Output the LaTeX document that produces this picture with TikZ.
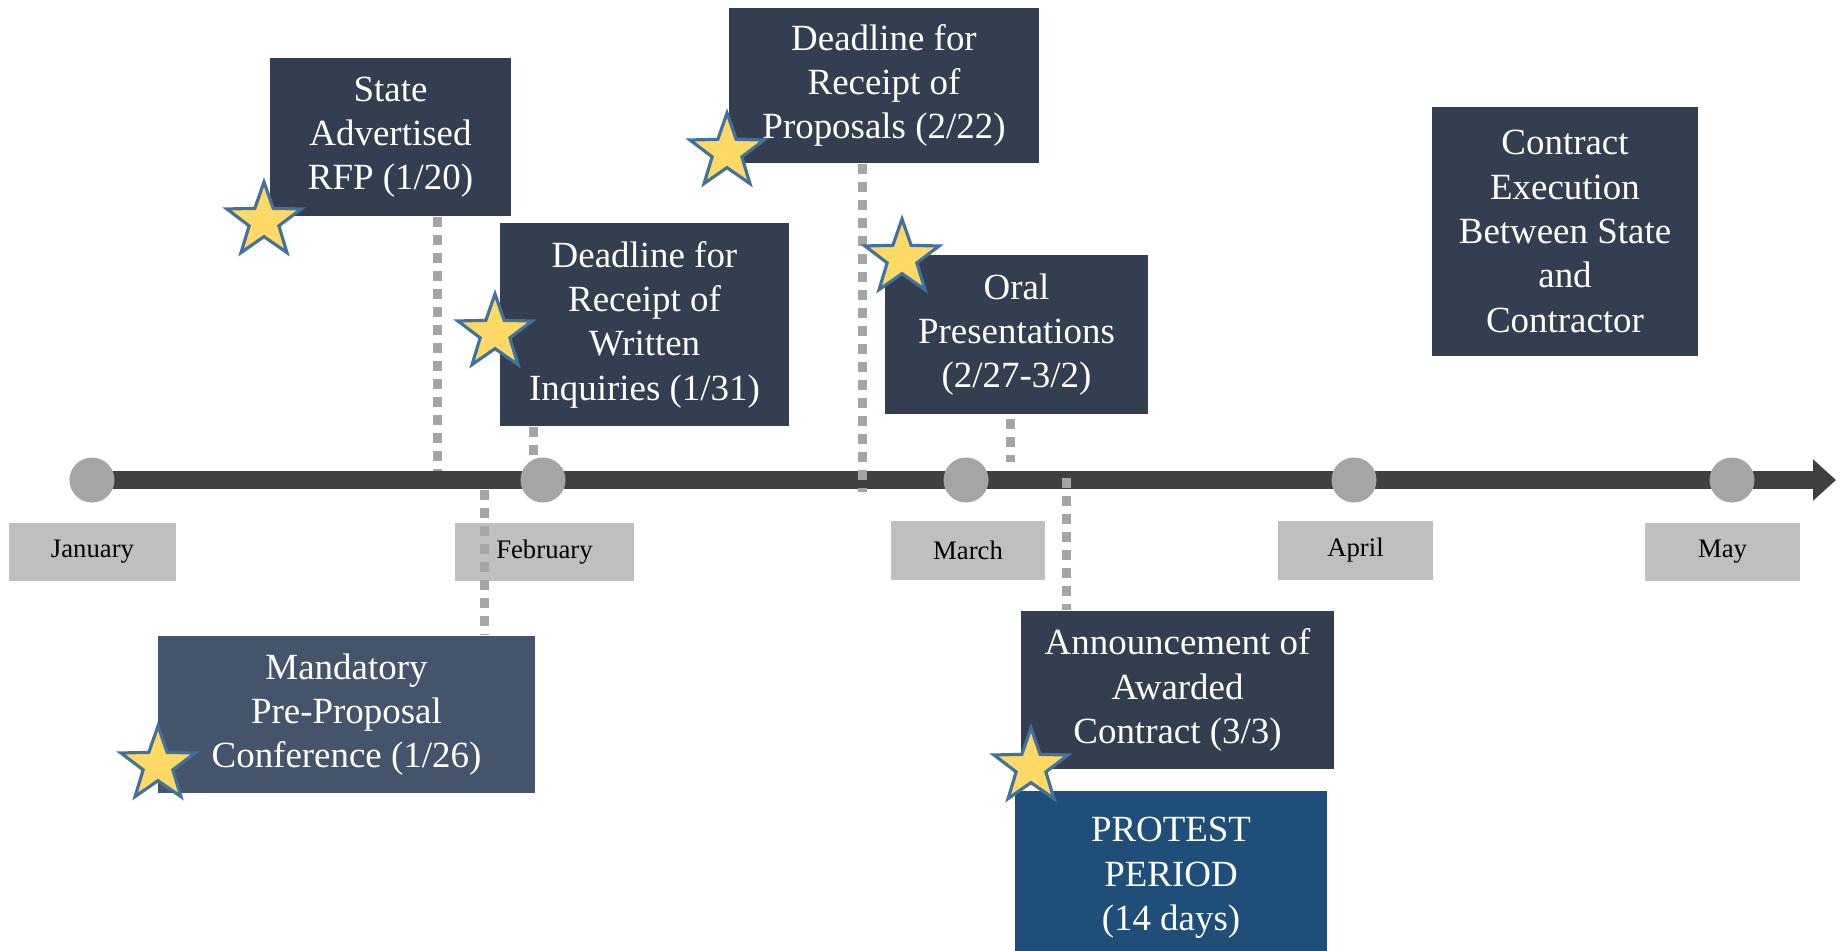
\documentclass[tikz,border=0pt]{standalone}
\usepackage{fontspec}
\setmainfont{Liberation Serif}
\usetikzlibrary{shapes.geometric,arrows.meta}

\definecolor{SlateBox}{HTML}{333F50}
\definecolor{MandBox}{HTML}{44546A}
\definecolor{ProtestBlue}{HTML}{1F4E79}
\definecolor{MonthGrey}{HTML}{BFBFBF}
\definecolor{DotGrey}{HTML}{A5A5A5}
\definecolor{LineGrey}{HTML}{404040}
\definecolor{StarYellow}{HTML}{FFD966}
\definecolor{StarBlue}{HTML}{41719C}

\begin{document}
\begin{tikzpicture}[x=0.01cm,y=-0.01cm,
  event/.style={fill=SlateBox,text=white,align=center,inner sep=0pt,font=\fontsize{10.5}{12.6}\selectfont},
  month/.style={fill=MonthGrey,inner sep=0pt,minimum height=0.58cm,font=\fontsize{7.6}{9}\selectfont},
  monthdot/.style={circle,fill=DotGrey,minimum size=0.45cm,inner sep=0pt},
  evlink/.style={DotGrey,line width=0.09cm,dash pattern=on 0.1cm off 0.08cm},
  starmark/.style={star,star points=5,star point ratio=2.5,fill=StarYellow,draw=StarBlue,line width=0.9pt,minimum size=0.78cm,inner sep=0pt}]
\useasboundingbox (0,0) rectangle (1843,950);

% timeline
\coordinate (tstart) at (92,480);
\coordinate (tend) at (1836,480);
\draw[LineGrey,line width=0.18cm,-{Triangle[width=0.40cm,length=0.23cm]}] (tstart) -- (tend);

% months
\node[month,minimum width=1.67cm] (ljan) at (92.5,552) {January};
\node[month,minimum width=1.79cm] (lfeb) at (544.5,552) {February};
\node[month,minimum width=1.53cm,minimum height=0.59cm] (lmar) at (968,550.5) {March};
\node[month,minimum width=1.55cm,minimum height=0.59cm] (lapr) at (1355.5,550.5) {April};
\node[month,minimum width=1.55cm] (lmay) at (1722.5,552) {May};

% events
\node[event,minimum width=2.41cm,minimum height=1.58cm] (rfp) at (390.5,137) {State\\Advertised\\RFP (1/20)};
\node[event,minimum width=2.89cm,minimum height=2.03cm] (inq) at (644.5,324.5) {Deadline for\\Receipt of\\Written\\Inquiries (1/31)};
\node[event,minimum width=3.10cm,minimum height=1.55cm] (prop) at (884,85.5) {Deadline for\\Receipt of\\Proposals (2/22)};
\node[event,minimum width=2.63cm,minimum height=1.59cm] (oral) at (1016.5,334.5) {Oral\\Presentations\\(2/27-3/2)};
\node[event,minimum width=2.66cm,minimum height=2.49cm] (exec) at (1565,231.5) {Contract\\Execution\\Between State\\and\\Contractor};
\node[event,fill=MandBox,minimum width=3.77cm,minimum height=1.57cm] (conf) at (346.5,714.5) {Mandatory\\Pre-Proposal\\Conference (1/26)};
\node[event,minimum width=3.13cm,minimum height=1.58cm] (award) at (1177.5,690) {Announcement of\\Awarded\\Contract (3/3)};
\node[event,fill=ProtestBlue,minimum width=3.12cm,minimum height=1.74cm] (protest) at (1171,878) {PROTEST\\PERIOD\\(14 days)};

% links to the line
\coordinate (c1) at (437,471);
\coordinate (c2) at (533,466);
\coordinate (c3) at (862,492);
\coordinate (c4) at (1010,462);
\coordinate (c5) at (1066,478);
\coordinate (c6) at (484,490);
\draw[evlink] (rfp.south -| c1) -- (c1);
\draw[evlink] (inq.south -| c2) -- (c2);
\draw[evlink] (prop.south -| c3) -- (c3);
\draw[evlink] (oral.south -| c4) ++(0,4) -- (c4);
\draw[evlink] (c5) -- (award.north -| c5);
\draw[evlink] (c6) -- (conf.north -| c6);

\foreach \x/\n in {92/jan,543/feb,966/mar,1354/apr,1732/may}
  \node[monthdot] (d\n) at (\x,480) {};

% stars
\node[starmark] (s1) at (264,221) {};
\node[starmark] (s2) at (495,333) {};
\node[starmark] (s3) at (727,152) {};
\node[starmark] (s4) at (902,258) {};
\node[starmark] (s5) at (158,765) {};
\node[starmark] (s6) at (1031,767) {};
\end{tikzpicture}
\end{document}
